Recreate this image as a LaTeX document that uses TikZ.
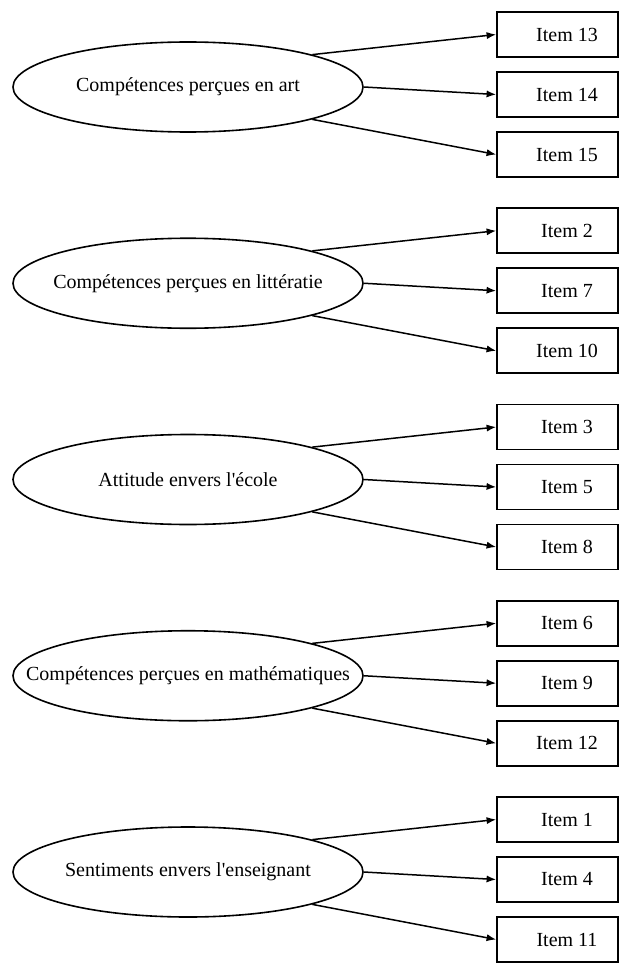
\documentclass[tikz,border=0pt]{standalone}
\usepackage{fontspec}
\setmainfont{Liberation Serif}
\usetikzlibrary{shapes.geometric, arrows.meta}

\tikzset{
    factor/.style={draw, ellipse, line width=0.8pt, minimum width=175pt, minimum height=45pt, inner sep=0pt},
    itembox/.style={draw, rectangle, line width=0.8pt, minimum width=60.5pt, minimum height=22.5pt,
        execute at begin node={\hspace*{9.5pt}}},
    load/.style={-{Latex[length=4.8pt, width=3.6pt]}, line width=0.75pt}
}

\begin{document}
\begin{tikzpicture}[x=0.5pt, y=-0.5pt, font=\fontsize{10}{12}\selectfont]
    % \draw[line width=0.1mm, color=black] (0,0) grid (619,963);
    \useasboundingbox (0, 0) rectangle (619, 963);
    \clip (0, 0) rectangle (619, 963);

    \node[factor, label=center:{Compétences perçues en art}] (art) at (188, 87) {};
    \node[itembox] (i13) at (557.5, 34.5) {Item 13};
    \node[itembox] (i14) at (557.5, 94.5) {Item 14};
    \node[itembox] (i15) at (557.5, 154.5) {Item 15};
    \draw[load] (art.north east) -- (i13.west);
    \draw[load] (art.east) -- (i14.west);
    \draw[load] (art.south east) -- (i15.west);

    \node[factor, label=center:{Compétences perçues en littératie}] (litt) at (188, 283.25) {};
    \node[itembox] (i2) at (557.5, 230.75) {Item 2};
    \node[itembox] (i7) at (557.5, 290.75) {Item 7};
    \node[itembox] (i10) at (557.5, 350.75) {Item 10};
    \draw[load] (litt.north east) -- (i2.west);
    \draw[load] (litt.east) -- (i7.west);
    \draw[load] (litt.south east) -- (i10.west);

    \node[factor, label=center:{Attitude envers l\textquotesingle école}] (ecole) at (188, 479.5) {};
    \node[itembox] (i3) at (557.5, 427) {Item 3};
    \node[itembox] (i5) at (557.5, 487) {Item 5};
    \node[itembox] (i8) at (557.5, 547) {Item 8};
    \draw[load] (ecole.north east) -- (i3.west);
    \draw[load] (ecole.east) -- (i5.west);
    \draw[load] (ecole.south east) -- (i8.west);

    \node[factor, label=center:{Compétences perçues en mathématiques}] (math) at (188, 675.75) {};
    \node[itembox] (i6) at (557.5, 623.25) {Item 6};
    \node[itembox] (i9) at (557.5, 683.25) {Item 9};
    \node[itembox] (i12) at (557.5, 743.25) {Item 12};
    \draw[load] (math.north east) -- (i6.west);
    \draw[load] (math.east) -- (i9.west);
    \draw[load] (math.south east) -- (i12.west);

    \node[factor, label=center:{Sentiments envers l\textquotesingle enseignant}] (ens) at (188, 872) {};
    \node[itembox] (i1) at (557.5, 819.5) {Item 1};
    \node[itembox] (i4) at (557.5, 879.5) {Item 4};
    \node[itembox] (i11) at (557.5, 939.5) {Item 11};
    \draw[load] (ens.north east) -- (i1.west);
    \draw[load] (ens.east) -- (i4.west);
    \draw[load] (ens.south east) -- (i11.west);

\end{tikzpicture}
\end{document}
